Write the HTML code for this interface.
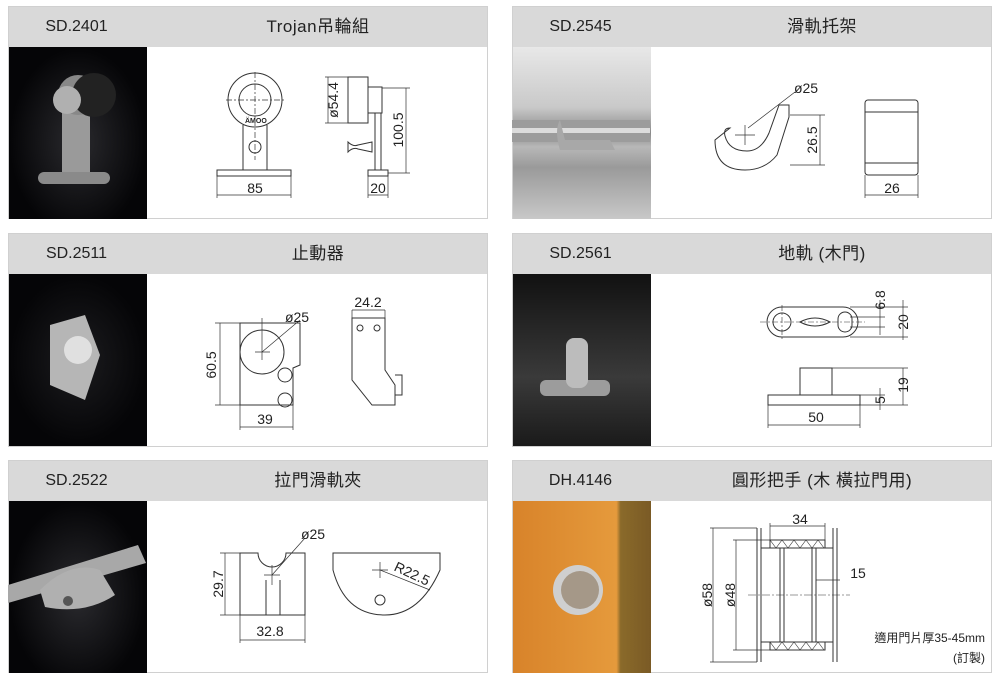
<!DOCTYPE html>
<html><head><meta charset="utf-8"><style>
body{margin:0;width:1000px;height:680px;background:#fff;position:relative;overflow:hidden;font-family:"Liberation Sans","Noto Sans CJK TC",sans-serif;}
.p{position:absolute;width:480px;border:1px solid #d0d0d0;background:#fff;box-sizing:border-box}
.h{position:absolute;left:0;top:0;width:100%;height:40px;background:#d9d9d9;}
.c{position:absolute;top:0;height:40px;line-height:40px;font-size:16px;color:#222;width:135px;text-align:center}
.t{position:absolute;top:0;height:40px;line-height:40px;font-size:17px;color:#222;left:140px;right:0;text-align:center;letter-spacing:0.5px}
.ph{position:absolute;left:0;top:40px;width:138px;height:172px}
svg{position:absolute;left:0;top:0}
</style></head><body>
<div class="p" style="left:8px;top:6px;height:213px"><div class="h"><div class="c">SD.2401</div><div class="t">Trojan吊輪組</div></div>
<div class="ph" style="background:radial-gradient(ellipse at 50% 55%,#2a2a2e,#050507 70%)"></div></div>
<div class="p" style="left:512px;top:6px;height:213px"><div class="h"><div class="c">SD.2545</div><div class="t">滑軌托架</div></div>
<div class="ph" style="background:linear-gradient(180deg,#e8e8e8 0%,#c9c9c9 35%,#8a8a8a 50%,#b8b8b8 58%,#9a9a9a 70%,#c8c8c8 100%)"></div></div>
<div class="p" style="left:8px;top:233px;height:214px"><div class="h"><div class="c">SD.2511</div><div class="t">止動器</div></div>
<div class="ph" style="background:radial-gradient(ellipse at 50% 50%,#1c1c1f,#050507 70%)"></div></div>
<div class="p" style="left:512px;top:233px;height:214px"><div class="h"><div class="c">SD.2561</div><div class="t">地軌 (木門)</div></div>
<div class="ph" style="background:linear-gradient(180deg,#111 0%,#3a3a3a 60%,#1a1a1a 100%)"></div></div>
<div class="p" style="left:8px;top:460px;height:213px"><div class="h"><div class="c">SD.2522</div><div class="t">拉門滑軌夾</div></div>
<div class="ph" style="background:radial-gradient(ellipse at 50% 55%,#2a2a2e,#050507 70%)"></div></div>
<div class="p" style="left:512px;top:460px;height:213px"><div class="h"><div class="c">DH.4146</div><div class="t">圓形把手 (木 橫拉門用)</div></div>
<div class="ph" style="background:linear-gradient(90deg,#d8832a 0%,#e59a3c 75%,#8a6a2a 78%,#7a5a25 100%)"></div></div>

<svg width="1000" height="680" viewBox="0 0 1000 680" font-family="Liberation Sans, sans-serif" font-size="14" fill="none" stroke="#333" stroke-width="1">
<g stroke="none">
<rect x="62" y="92" width="28" height="80" fill="#9a9a9a"/><circle cx="78" cy="95" r="20" fill="#888"/><circle cx="94" cy="95" r="22" fill="#222"/><circle cx="67" cy="100" r="14" fill="#b0b0b0"/>
<rect x="38" y="172" width="72" height="12" rx="6" fill="#8a8a8a"/>
<rect x="512" y="120" width="138" height="22" fill="#9c9c9c"/><rect x="512" y="128" width="138" height="5" fill="#dcdcdc"/>
<path d="M560 120 q-6 10 0 30 l55 0 l-5 -10 l-45 0z" fill="#a8a8a8"/>
<path d="M50 325 l35 -10 l15 40 l-15 45 l-35 -15z" fill="#b6b6b6"/><circle cx="78" cy="350" r="14" fill="#e0e0e0"/>
<rect x="540" y="380" width="70" height="16" rx="6" fill="#9c9c9c"/><rect x="566" y="338" width="22" height="50" rx="8" fill="#bcbcbc"/>
<path d="M8 585 l130 -40 l8 18 l-138 40z" fill="#a8a8a8"/><path d="M40 590 q30 -30 60 -20 l15 25 q-30 20 -70 12z" fill="#b0b0b0"/><circle cx="68" cy="601" r="5" fill="#555"/>
<circle cx="578" cy="590" r="25" fill="#cfcfcf"/><circle cx="580" cy="590" r="19" fill="#a59888"/>
</g>
<g>
<circle cx="255" cy="100" r="27"/><circle cx="255" cy="100" r="16"/>
<path d="M243 125 L243 170 M267 125 L267 170"/><rect x="217" y="170" width="74" height="6"/>
<circle cx="255" cy="147" r="6"/>
<path d="M226 100 H284 M255 72 V160" stroke-dasharray="6 2 2 2" stroke-width="0.7"/>
<path d="M217 176 V198 M291 176 V198 M217 195 H291" stroke-width="0.7"/>
<rect x="348" y="77" width="20" height="46"/><rect x="368" y="87" width="14" height="26"/>
<path d="M375 113 V170 M381 113 V170"/><rect x="368" y="170" width="20" height="6"/>
<path d="M348 142 q5 5 10 3 l14 -3 v10 l-14 -3 q-5 -2 -10 3z"/>
<path d="M325 77 H348 M325 123 H348 M328 77 V123 M382 88 H410 M388 173 H410 M406 88 V173 M368 176 V198 M388 176 V198 M368 195 H388" stroke-width="0.7"/>
</g>
<g fill="#222" stroke="none" font-size="14">
<text x="255" y="193" text-anchor="middle">85</text><text x="378" y="193" text-anchor="middle">20</text>
<text transform="translate(338,100) rotate(-90)" text-anchor="middle">ø54.4</text>
<text transform="translate(403,130) rotate(-90)" text-anchor="middle">100.5</text>
<text x="245" y="123" font-size="7" font-weight="bold">ÄMOO</text>
</g>
<g>
<path d="M715 140 q0 30 30 30 q20 0 32 -15 l12 -38 l0 -12 l-10 0 l-10 28 q-8 18 -22 18 q-18 0 -22 -15 q-2 -8 5 -8z"/>
<path d="M735 135 H755 M745 125 V145 M748 128 L795 92" stroke-width="0.7"/>
<path d="M790 115 H825 M790 165 H825 M820 115 V165" stroke-width="0.7"/>
<rect x="865" y="100" width="53" height="75" rx="3"/><path d="M865 112 H918 M865 163 H918"/>
<path d="M865 175 V198 M918 175 V198 M865 195 H918" stroke-width="0.7"/>
</g>
<g fill="#222" stroke="none"><text x="806" y="93" text-anchor="middle">ø25</text><text x="892" y="193" text-anchor="middle">26</text>
<text transform="translate(817,140) rotate(-90)" text-anchor="middle">26.5</text></g>
<g>
<path d="M240 323 H300 V365 L293 368 V405 H240 Z"/><circle cx="262" cy="352" r="22"/>
<circle cx="285" cy="375" r="7"/><circle cx="285" cy="400" r="7"/>
<path d="M215 323 H240 M215 405 H240 M220 323 V405 M240 405 V430 M293 405 V430 M240 427 H293" stroke-width="0.7"/>
<path d="M262 318 V360 M255 352 H270 M262 352 L300 320" stroke-width="0.7"/>
<path d="M352 318 H385 V370 L395 385 V405 H372 L352 380 Z"/><circle cx="360" cy="328" r="3"/><circle cx="377" cy="328" r="3"/>
<path d="M395 375 H402 V395 H395"/>
<path d="M352 310 V318 M385 310 V318 M352 310 H385" stroke-width="0.7"/>
</g>
<g fill="#222" stroke="none"><text x="368" y="307" text-anchor="middle">24.2</text><text x="297" y="322" text-anchor="middle">ø25</text>
<text x="265" y="424" text-anchor="middle">39</text><text transform="translate(216,365) rotate(-90)" text-anchor="middle">60.5</text></g>
<g>
<rect x="767" y="307" width="91" height="30" rx="15"/><circle cx="782" cy="322" r="9"/><rect x="838" y="312" width="14" height="20" rx="7"/>
<path d="M800 322 q15 -8 30 0 q-15 8 -30 0z"/>
<path d="M760 322 H865 M782 305 V340" stroke-width="0.6" stroke-dasharray="6 2 2 2"/>
<rect x="800" y="368" width="32" height="27"/><rect x="768" y="395" width="92" height="10"/>
<path d="M850 317 H885 M850 327 H885 M880 300 V335 M850 307 H908 M850 337 H908 M903 300 V340" stroke-width="0.7"/>
<path d="M860 395 H885 M860 405 H908 M832 368 H908 M880 388 V410 M903 368 V405 M768 405 V428 M860 405 V428 M768 425 H860" stroke-width="0.7"/>
</g>
<g fill="#222" stroke="none"><text x="816" y="422" text-anchor="middle">50</text>
<text transform="translate(885,300) rotate(-90)" text-anchor="middle">6.8</text><text transform="translate(908,322) rotate(-90)" text-anchor="middle">20</text>
<text transform="translate(885,400) rotate(-90)" text-anchor="middle">5</text><text transform="translate(908,385) rotate(-90)" text-anchor="middle">19</text></g>
<g>
<path d="M240 553 H258 A14 14 0 0 0 286 553 H305 V615 H240 Z"/><path d="M266 580 V615 M280 580 V615"/>
<path d="M264 575 H280 M272 565 V585 M272 575 L305 538" stroke-width="0.7"/>
<path d="M220 553 H240 M220 615 H240 M225 553 V615 M240 615 V643 M305 615 V643 M240 640 H305" stroke-width="0.7"/>
<path d="M333 553 H440 V570 Q420 615 385 615 Q345 615 333 570 Z"/><circle cx="380" cy="600" r="5"/>
<path d="M372 570 H388 M380 562 V578 M380 570 L430 590" stroke-width="0.7"/>
</g>
<g fill="#222" stroke="none"><text x="313" y="539" text-anchor="middle">ø25</text><text x="270" y="636" text-anchor="middle">32.8</text>
<text transform="translate(223,584) rotate(-90)" text-anchor="middle">29.7</text>
<text transform="translate(410,578) rotate(25)" text-anchor="middle">R22.5</text></g>
<g>
<path d="M757 528 V662 M761 528 V662 M833 528 V662 M837 528 V662"/>
<rect x="770" y="540" width="55" height="8"/><rect x="770" y="642" width="55" height="8"/>
<path d="M770 540 l6 8 l6 -8 l6 8 l6 -8 l6 8 l6 -8 l6 8 l6 -8 l6 8 M770 642 l6 8 l6 -8 l6 8 l6 -8 l6 8 l6 -8 l6 8 l6 -8 l6 8" stroke-width="0.6"/>
<path d="M761 548 H833 M761 642 H833 M780 548 V642 M784 548 V642 M812 548 V642 M816 548 V642"/>
<path d="M748 595 H850" stroke-width="0.6" stroke-dasharray="8 2 2 2"/>
<path d="M710 528 H757 M710 662 H757 M713 528 V662 M733 540 H770 M733 650 H770 M736 540 V650 M770 523 V540 M825 523 V540 M770 526 H825 M816 580 H840" stroke-width="0.7"/>
</g>
<g fill="#222" stroke="none"><text x="800" y="524" text-anchor="middle">34</text><text x="858" y="578" text-anchor="middle">15</text>
<text transform="translate(712,595) rotate(-90)" text-anchor="middle">ø58</text><text transform="translate(735,595) rotate(-90)" text-anchor="middle">ø48</text>
<text x="985" y="642" text-anchor="end" font-size="12" font-family="Liberation Sans, Noto Sans CJK TC, sans-serif">適用門片厚35-45mm</text>
<text x="985" y="662" text-anchor="end" font-size="12" font-family="Liberation Sans, Noto Sans CJK TC, sans-serif">(訂製)</text></g>
</svg>
</body></html>
